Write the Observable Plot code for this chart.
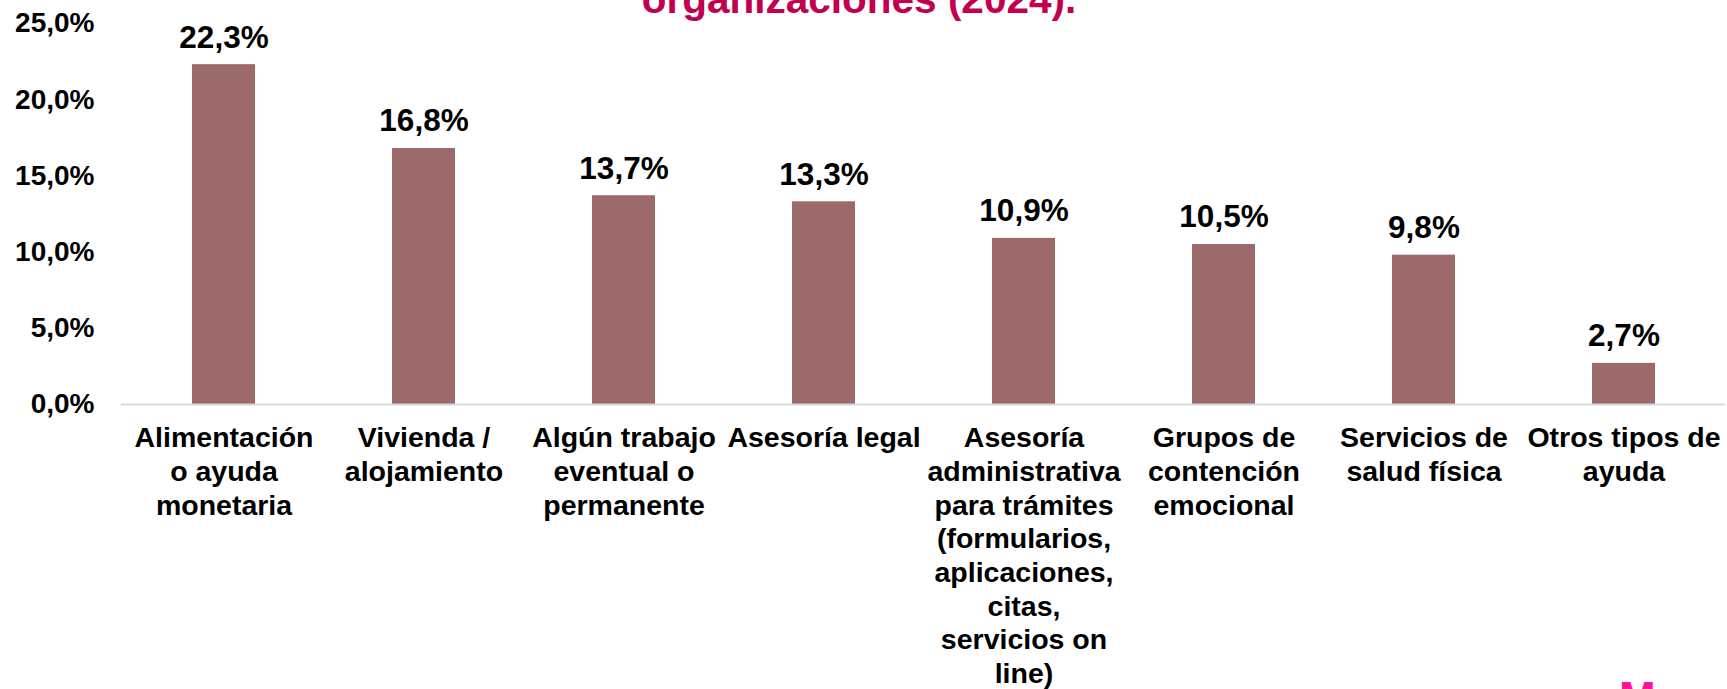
<!DOCTYPE html>
<html>
<head>
<meta charset="utf-8">
<script src="https://cdn.jsdelivr.net/npm/d3@7"></script>
<script src="https://cdn.jsdelivr.net/npm/@observablehq/plot@0.6"></script>
<style>
  html, body { margin: 0; padding: 0; background: #fff; overflow: hidden; }
  #wrap { position: relative; width: 1727px; height: 689px; overflow: hidden; }
  #title { position: absolute; left: 0; width: 1718px; top: -21px; text-align: center;
    font-family: "Liberation Sans", Arial, sans-serif; font-weight: bold; font-size: 40.5px;
    line-height: 40px; color: #c2004f; white-space: nowrap; }
  #logo { position: absolute; left: 1619px; top: 676px; font-family: "Liberation Sans", Arial, sans-serif;
    font-weight: bold; font-size: 44px; line-height: 44px; color: #ff1493; white-space: nowrap; }
  #logo span { color: #ff6fa8; }
  #chart { position: absolute; left: 0; top: 0; }
</style>
</head>
<body>
<div id="wrap">
  <div id="chart"></div>
  <div id="title">organizaciones (2024).</div>
  <div id="logo">M<span>o</span></div>
</div>
<script>
const categories = [
  "Alimentación\no ayuda\nmonetaria",
  "Vivienda /\nalojamiento",
  "Algún trabajo\neventual o\npermanente",
  "Asesoría legal",
  "Asesoría\nadministrativa\npara trámites\n(formularios,\naplicaciones,\ncitas,\nservicios on\nline)",
  "Grupos de\ncontención\nemocional",
  "Servicios de\nsalud física",
  "Otros tipos de\nayuda"
];
const values = [22.3, 16.8, 13.7, 13.3, 10.9, 10.5, 9.8, 2.7];
const yTicks = [0, 5, 10, 15, 20, 25];

const data = categories.map((c, i) => ({cat: c, val: values[i]}));
const fmt = d => d.toFixed(1).replace(".", ",") + "%";

const chart = Plot.plot({
  width: 1727,
  height: 689,
  marginLeft: 121,
  marginRight: 2,
  marginTop: 23,
  marginBottom: 285,
  style: {fontFamily: "'Liberation Sans', Arial, sans-serif", color: "#000", background: "transparent"},
  x: {domain: categories, paddingInner: 0.686, paddingOuter: 0.343},
  y: {domain: [0, 25]},
  marks: [
    Plot.barY(data, {x: "cat", y: "val", fill: "#9c6a6a"}),
    Plot.ruleY([0], {stroke: "#d9d9d9", strokeWidth: 2}),
    Plot.text(data, {x: "cat", y: "val", text: d => fmt(d.val), lineAnchor: "bottom", dy: -17,
      fontSize: 31.5, fontWeight: "bold", fill: "#000"}),
    Plot.axisY({ticks: yTicks, tickFormat: fmt, tickSize: 0, tickPadding: 27, label: null,
      fontSize: 28, fontWeight: "bold", fill: "#000"}),
    Plot.axisX({tickSize: 0, tickPadding: 19, label: null, fontSize: 28.5, fontWeight: "bold",
      lineHeight: 1.18, fill: "#000"})
  ]
});
document.getElementById("chart").appendChild(chart);
</script>
</body>
</html>
